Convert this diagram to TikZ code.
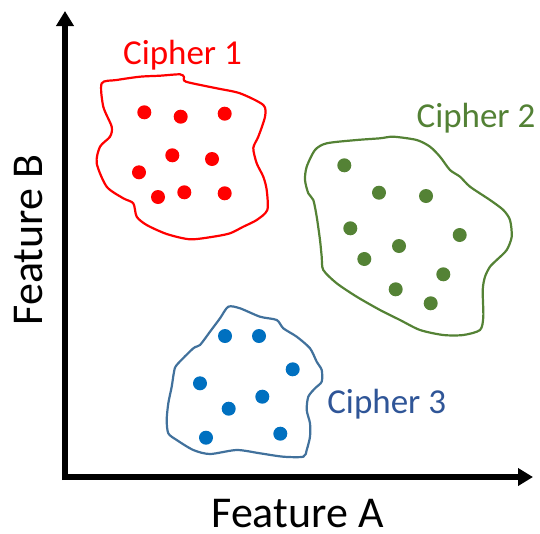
\documentclass[tikz,border=0pt]{standalone}
\usepackage{fontspec}
\setmainfont{Carlito}
\usetikzlibrary{arrows.meta}
\definecolor{cred}{HTML}{FF0000}
\definecolor{cgreen}{HTML}{548235}
\definecolor{cgreentext}{HTML}{538135}
\definecolor{cblueline}{HTML}{41719C}
\definecolor{cbluedot}{HTML}{0070C0}
\definecolor{cbluetext}{HTML}{2F5597}
\tikzset{
  axis/.style={line width=6pt, -{Triangle[length=15pt,width=17pt]}},
  blob/.style={line width=2.2pt, line join=round},
  axislabel/.style={font=\fontsize{44}{50}\selectfont, anchor=base, inner sep=0pt},
  clusterlabel/.style={font=\fontsize{35}{40}\selectfont, anchor=base, inner sep=0pt},
}
\begin{document}
\begin{tikzpicture}[x=1pt,y=-1pt]
\useasboundingbox (0,0) rectangle (540,533);

% axes
\coordinate (origin) at (65,477);
\coordinate (ytip) at (65,11);
\coordinate (xtip) at (533,477);
\draw[axis] ([yshift=-3pt]origin) -- (ytip);
\draw[axis] ([xshift=-3pt]origin) -- (xtip);
\node[axislabel] (labA) at (297.5,527) {Feature A};
\node[axislabel, rotate=90] (labB) at (42,240) {Feature B};

% cluster 1
\draw[blob, cred] plot[smooth cycle, tension=0.45] coordinates {
  (101.7,83.3) (116.7,80) (140,76.7) (160,75.7) (180,74.3) (184,77) (186,81.7)
  (216.7,88.3) (240,93.3) (263.3,105) (265,116.7) (258.3,136.7) (253.3,148)
  (256.7,163.3) (263.3,176.7) (266.7,190) (267.3,210) (256.7,220) (243.3,226.7)
  (230,233.3) (213.3,236.7) (190,239.3) (166.7,234) (146.7,225) (136.7,216.7)
  (133.3,203.3) (123.3,198.3) (106.7,186.7) (96.7,163.3) (100,146.7)
  (110,136.7) (111.7,126.7) (103.3,106.7)};
\foreach \p in {(144.3,112.3),(180.7,116.7),(224.7,113.7),(172.3,155.3),(212,159),
                (139,172.3),(158,197),(184.3,192.3),(224.7,193.3)}
  \fill[cred] \p circle (7);
\node[clusterlabel, text=cred] (c1) at (182.5,64.3) {Cipher 1};

% cluster 2
\draw[blob, cgreen] plot[smooth cycle, tension=0.45] coordinates {
  (315,150) (326.7,143.3) (356.7,140) (380,138.3) (393.3,136.7) (416.7,140)
  (430,146.7) (440,156.7) (450,170) (460,176.7) (470,186.7) (490,200)
  (503.3,210) (510,220) (511.7,236.7) (506.7,250) (496.7,260) (490,266.7)
  (485,276.7) (482.7,290) (483.3,316.7) (480,330) (463.3,335) (443.3,335)
  (420,330) (400,320) (380,310) (356.7,296.7) (336.7,283.3) (323.3,270)
  (321.7,256.7) (320,240) (316.7,216.7) (313.3,200) (308.3,193.3) (305,180)
  (306.7,166.7)};
\foreach \p in {(344.3,165.3),(379,192.7),(426,196),(350.3,228.3),(399,246),
                (459.7,235),(364.3,259),(443.3,274.3),(395.7,289.3),(430.7,303.3)}
  \fill[cgreen] \p circle (7);
\node[clusterlabel, text=cgreentext] (c2) at (476,127.7) {Cipher 2};

% cluster 3
\draw[blob, cblueline] plot[smooth cycle, tension=0.45] coordinates {
  (176.7,365) (193.3,348.3) (200,345) (210,331.7) (220,318.3) (228.3,306.7)
  (240,308.3) (260,316.7) (276.7,320) (283.3,328.3) (296.7,336.7) (310,348.3)
  (316.7,361.7) (321.7,370) (321.7,381.7) (315,388.3) (308.3,396.7)
  (306.7,410) (310,423.3) (310,436.7) (306.7,450) (303.3,456.7) (283.3,456.7)
  (260,453.3) (236.7,450) (210,454) (193.3,450) (176.7,440) (168.3,433.3)
  (166.7,420) (168.3,403.3) (171.7,386.7) (174,372)};
\foreach \p in {(225,336),(259,336),(292.7,369.3),(200,383.3),(262.3,396.7),
                (228.7,408.7),(206,437.7),(280.3,433.7)}
  \fill[cbluedot] \p circle (7);
\node[clusterlabel, text=cbluetext] (c3) at (386.7,413.3) {Cipher 3};
\end{tikzpicture}
\end{document}
